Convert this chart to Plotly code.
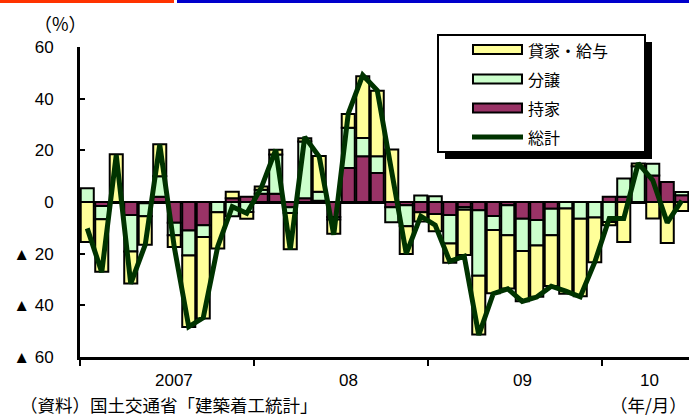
import plotly.graph_objects as go

# ---------------- data ----------------
months = [f"{y}-{m:02d}" for y in (2007, 2008, 2009, 2010) for m in range(1, 13)][:42]

rental = [-15.5, -20.3, 18.5, -12.3, -11.0, 12.4, -4.5, -27.7, -31.6, -14.0, 2.5, -2.6,
          1.3, 1.8, -14.0, 1.3, 13.8, -5.5, 5.4, 23.9, 25.4, 20.3, -10.7, -3.5,
          -6.7, -7.4, -17.5, -22.8, -24.5, -20.6, -19.4, -19.9, -19.6, -33.0, -30.0, -17.3,
          -1.3, -15.5, 1.1, -6.4, -15.9, -3.5]
condo = [5.3, -5.2, 0.0, -14.2, -5.0, 8.0, -4.9, -9.7, -4.5, -4.0, -5.5, -3.9,
         1.5, 15.2, -2.3, 21.9, 3.5, -1.0, 15.5, 7.1, 6.5, -5.8, -8.1, 2.5,
         2.2, -11.1, -1.0, -25.3, -5.4, -11.6, -12.5, -9.8, -10.3, -2.5, -6.5, -6.0,
         -7.7, 7.1, 13.8, 4.5, 0.0, 1.3]
owner = [0.0, -1.5, 0.0, -5.0, -0.5, 2.0, -8.0, -11.0, -9.0, 0.0, 1.5, 2.0,
         3.2, 3.2, -2.0, 1.5, 0.5, -5.8, 13.2, 17.7, 11.2, -2.0, -1.3, -4.0,
         -4.6, -5.0, -2.0, -3.2, -5.4, -1.3, -6.5, -7.0, -2.6, 0.0, 0.0, 0.0,
         2.0, 2.0, 0.0, 10.3, 7.7, 2.6]
total = [-10.2, -27.2, 18.2, -31.6, -16.5, 22.2, -17.4, -48.3, -44.8, -17.2, -1.8, -4.4,
         5.5, 20.3, -18.4, 25.2, 17.5, -12.7, 34.2, 49.1, 43.2, 12.5, -20.0, -5.5,
         -9.0, -23.0, -21.0, -51.5, -35.5, -33.6, -38.5, -36.8, -32.6, -34.5, -36.7, -23.3,
         -6.4, -6.4, 15.0, 8.4, -8.0, 0.5]

series_names = ["貸家・給与", "分譲", "持家", "総計"]
y_tickvals = [60, 40, 20, 0, -20, -40, -60]
y_ticktext = ["60", "40", "20", "0", "▲ 20", "▲ 40", "▲ 60"]
year_labels = ["2007", "08", "09", "10"]
year_label_pos = [6, 18, 30, 38.8]
year_boundaries = [-0.5, 11.5, 23.5, 35.5]

# ---------------- style ----------------
C_YEL = "#FFFF99"
C_GRN = "#CCFFCC"
C_PUR = "#993366"
C_LINE = "#003300"
NUM_FONT = "Liberation Sans, Noto Sans CJK JP, sans-serif"
JP_FONT = "Noto Sans CJK JP, sans-serif"

W, H = 689, 417
ML, MR, MT, MB = 80, 0, 47, 60
PW, PH = W - ML - MR, H - MT - MB


def px2paper_x(px):
    return (px - ML) / PW


def px2paper_y(py):
    return (H - MB - py) / PH


x = list(range(len(months)))

fig = go.Figure()
bar_line = dict(color="black", width=2)
fig.add_trace(go.Bar(x=x, y=owner, name=series_names[2], marker=dict(color=C_PUR, line=bar_line)))
fig.add_trace(go.Bar(x=x, y=condo, name=series_names[1], marker=dict(color=C_GRN, line=bar_line)))
fig.add_trace(go.Bar(x=x, y=rental, name=series_names[0], marker=dict(color=C_YEL, line=bar_line)))
fig.add_trace(go.Scatter(x=x, y=total, name=series_names[3], mode="lines",
                         line=dict(color=C_LINE, width=5)))

shapes = []
# top decorative bar
shapes.append(dict(type="rect", xref="paper", yref="paper",
                   x0=px2paper_x(0), x1=px2paper_x(174), y0=px2paper_y(3), y1=px2paper_y(0),
                   fillcolor="#FF3300", line=dict(width=0)))
shapes.append(dict(type="rect", xref="paper", yref="paper",
                   x0=px2paper_x(177), x1=px2paper_x(689), y0=px2paper_y(3), y1=px2paper_y(0),
                   fillcolor="#0000CC", line=dict(width=0)))

# legend box with shadow
lx0, lx1, ly0, ly1 = 438, 645, 35, 152
sh = 7
shapes.append(dict(type="rect", xref="paper", yref="paper",
                   x0=px2paper_x(lx0 + sh), x1=px2paper_x(lx1 + sh),
                   y0=px2paper_y(ly1 + sh), y1=px2paper_y(ly0 + sh),
                   fillcolor="black", line=dict(width=0)))
shapes.append(dict(type="rect", xref="paper", yref="paper",
                   x0=px2paper_x(lx0), x1=px2paper_x(lx1),
                   y0=px2paper_y(ly1), y1=px2paper_y(ly0),
                   fillcolor="white", line=dict(color="black", width=2)))

annotations = []
leg_items = [(series_names[0], C_YEL, 49.5, "bar"), (series_names[1], C_GRN, 79, "bar"),
             (series_names[2], C_PUR, 108, "bar"), (series_names[3], C_LINE, 137, "line")]
for name, col, cy, kind in leg_items:
    if kind == "bar":
        shapes.append(dict(type="rect", xref="paper", yref="paper",
                           x0=px2paper_x(473), x1=px2paper_x(522),
                           y0=px2paper_y(cy + 4.5), y1=px2paper_y(cy - 4.5),
                           fillcolor=col, line=dict(color="black", width=2)))
    else:
        shapes.append(dict(type="line", xref="paper", yref="paper",
                           x0=px2paper_x(472), x1=px2paper_x(523),
                           y0=px2paper_y(cy), y1=px2paper_y(cy),
                           line=dict(color=col, width=5)))
    annotations.append(dict(xref="paper", yref="paper", x=px2paper_x(526), y=px2paper_y(cy),
                            xanchor="left", yanchor="middle", showarrow=False, text=name,
                            font=dict(family=JP_FONT, size=16, color="black")))

for lab, pos in zip(year_labels, year_label_pos):
    annotations.append(dict(xref="x", yref="paper", x=pos, y=px2paper_y(380),
                            xanchor="center", yanchor="middle", showarrow=False, text=lab,
                            font=dict(family=NUM_FONT, size=17, color="black")))

annotations.append(dict(xref="paper", yref="paper", x=px2paper_x(60), y=px2paper_y(23),
                        xanchor="center", yanchor="middle", showarrow=False, text="（%）",
                        font=dict(family=JP_FONT, size=18, color="black")))
annotations.append(dict(xref="paper", yref="paper", x=px2paper_x(18), y=px2paper_y(404),
                        xanchor="left", yanchor="middle", showarrow=False,
                        text="（資料）国土交通省「建築着工統計」",
                        font=dict(family=JP_FONT, size=17.5, color="black")))
annotations.append(dict(xref="paper", yref="paper", x=px2paper_x(689), y=px2paper_y(404),
                        xanchor="right", yanchor="middle", showarrow=False, text="（年/月）",
                        font=dict(family=JP_FONT, size=17.5, color="black")))

fig.update_layout(
    width=W, height=H,
    margin=dict(l=ML, r=MR, t=MT, b=MB, pad=0),
    barmode="relative", bargap=0.1,
    paper_bgcolor="white", plot_bgcolor="white",
    showlegend=False,
    shapes=shapes, annotations=annotations,
    xaxis=dict(range=[-0.5, len(months) - 0.5], showgrid=False, zeroline=False,
               showline=True, linecolor="black", linewidth=3,
               ticks="outside", ticklen=6, tickwidth=2, tickcolor="black",
               tickvals=year_boundaries, showticklabels=False, automargin=False),
    yaxis=dict(range=[-60, 60], showgrid=False,
               zeroline=True, zerolinecolor="black", zerolinewidth=3,
               showline=True, linecolor="black", linewidth=3,
               ticks="inside", ticklen=5, tickwidth=2, tickcolor="black",
               tickvals=y_tickvals, ticktext=y_ticktext, ticklabelstandoff=20,
               tickfont=dict(family=NUM_FONT, size=17, color="black"), automargin=False),
)

fig.write_html("out.html")
